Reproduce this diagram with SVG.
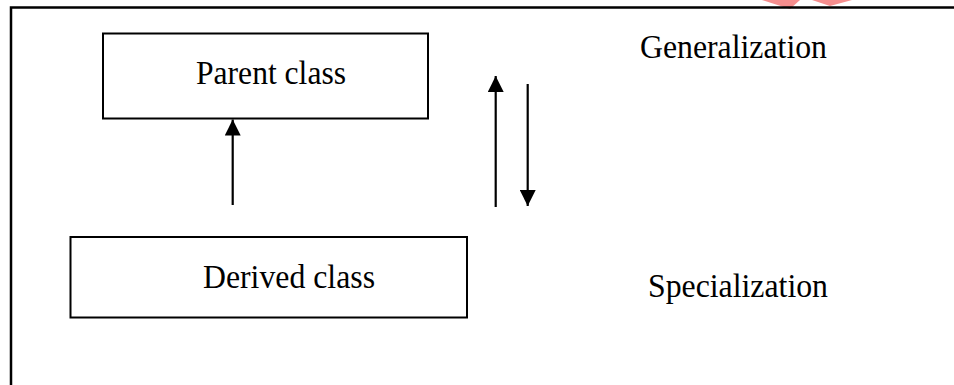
<svg xmlns="http://www.w3.org/2000/svg" width="954" height="385" viewBox="0 0 954 385">
<style>
.box{fill:#fff;stroke:#000;stroke-width:2}
.lbl{font-family:"Liberation Serif","Times New Roman",serif;font-size:33px;fill:#000}
.con{stroke:#000;stroke-width:2.2;fill:none}
</style>
<defs>
<marker id="ah" markerWidth="16" markerHeight="16" viewBox="0 0 16 16" refX="16" refY="8" orient="auto" markerUnits="userSpaceOnUse">
<path d="M0,0 L16,8 L0,16 Z" fill="#000"/>
</marker>
</defs>
<rect width="954" height="385" fill="#fff"/>
<g id="watermark" opacity="0.55">
<path d="M762,0 L790,9 L800,0 Z" fill="#e33"/>
<path d="M812,0 L830,6 L852,0 Z" fill="#e33"/>
</g>
<g id="frame">
<path d="M11,385 L11,7.5 L954,7.5" fill="none" stroke="#000" stroke-width="2.5"/>
</g>
<g id="parent">
<rect class="box" x="103" y="33.5" width="325" height="85"/>
<text class="lbl" x="196" y="84" textLength="150" lengthAdjust="spacingAndGlyphs">Parent class</text>
</g>
<g id="derived">
<rect class="box" x="70.5" y="237" width="396.5" height="80.5"/>
<text class="lbl" x="203" y="288" textLength="172" lengthAdjust="spacingAndGlyphs">Derived class</text>
</g>
<g id="generalization">
<text class="lbl" x="640" y="58" textLength="187" lengthAdjust="spacingAndGlyphs">Generalization</text>
</g>
<g id="specialization">
<text class="lbl" x="648" y="297" textLength="180" lengthAdjust="spacingAndGlyphs">Specialization</text>
</g>
<g id="connectors">
<line class="con" x1="232.7" y1="205" x2="232.7" y2="119.5" marker-end="url(#ah)"/>
<line class="con" x1="495.7" y1="207" x2="495.7" y2="76" marker-end="url(#ah)"/>
<line class="con" x1="527.7" y1="84" x2="527.7" y2="206" marker-end="url(#ah)"/>
</g>
</svg>
